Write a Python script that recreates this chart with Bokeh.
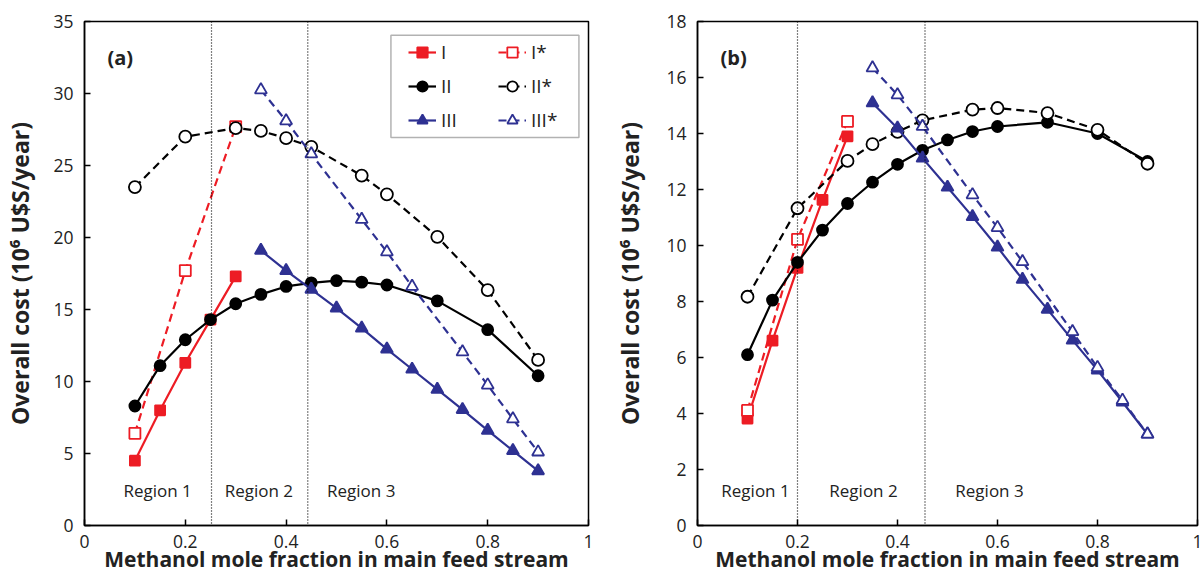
from bokeh.plotting import figure
from bokeh.models import (Span, Label, Legend, LegendItem, FixedTicker,
                          CustomJSTickFormatter, BoxAnnotation)
from bokeh.layouts import row
from bokeh.embed import file_html
from bokeh.resources import INLINE

# ---------------- data: panel (a) ----------------
xa_I = [0.1, 0.15, 0.2, 0.25, 0.3]
ya_I = [4.5, 8.0, 11.3, 14.3, 17.3]
xa_Is = [0.1, 0.2, 0.3]
ya_Is = [6.4, 17.7, 27.7]
xa_II = [0.1, 0.15, 0.2, 0.25, 0.3, 0.35, 0.4, 0.45, 0.5, 0.55, 0.6, 0.7, 0.8, 0.9]
ya_II = [8.3, 11.1, 12.9, 14.3, 15.4, 16.05, 16.6, 16.85, 17.0, 16.9, 16.7, 15.6, 13.6, 10.4]
xa_IIs = [0.1, 0.2, 0.3, 0.35, 0.4, 0.45, 0.55, 0.6, 0.7, 0.8, 0.9]
ya_IIs = [23.5, 27.0, 27.6, 27.4, 26.9, 26.3, 24.3, 23.0, 20.05, 16.35, 11.5]
xa_III = [0.35, 0.4, 0.45, 0.5, 0.55, 0.6, 0.65, 0.7, 0.75, 0.8, 0.85, 0.9]
ya_III = [19.1, 17.7, 16.4, 15.1, 13.7, 12.25, 10.85, 9.45, 8.05, 6.6, 5.2, 3.8]
xa_IIIs = [0.35, 0.4, 0.45, 0.55, 0.6, 0.65, 0.75, 0.8, 0.85, 0.9]
ya_IIIs = [30.25, 28.1, 25.8, 21.25, 19.0, 16.6, 12.05, 9.75, 7.4, 5.1]

# ---------------- data: panel (b) ----------------
xb_I = [0.1, 0.15, 0.2, 0.25, 0.3]
yb_I = [3.82, 6.6, 9.2, 11.63, 13.9]
xb_Is = [0.1, 0.2, 0.3]
yb_Is = [4.11, 10.22, 14.43]
xb_II = [0.1, 0.15, 0.2, 0.25, 0.3, 0.35, 0.4, 0.45, 0.5, 0.55, 0.6, 0.7, 0.8, 0.9]
yb_II = [6.1, 8.05, 9.4, 10.55, 11.5, 12.26, 12.9, 13.4, 13.77, 14.07, 14.25, 14.4, 14.0, 13.0]
xb_IIs = [0.1, 0.2, 0.3, 0.35, 0.4, 0.45, 0.55, 0.6, 0.7, 0.8, 0.9]
yb_IIs = [8.17, 11.33, 13.02, 13.62, 14.06, 14.47, 14.85, 14.91, 14.73, 14.13, 12.92]
xb_III = [0.35, 0.4, 0.45, 0.5, 0.55, 0.6, 0.65, 0.7, 0.75, 0.8, 0.85, 0.9]
yb_III = [15.09, 14.19, 13.12, 12.08, 11.03, 9.94, 8.79, 7.72, 6.62, 5.55, 4.41, 3.26]
xb_IIIs = [0.35, 0.4, 0.45, 0.55, 0.6, 0.65, 0.75, 0.8, 0.85, 0.9]
yb_IIIs = [16.34, 15.38, 14.25, 11.81, 10.64, 9.42, 6.92, 5.64, 4.47, 3.26]

series_names = ["I", "I*", "II", "II*", "III", "III*"]
region_labels = ["Region 1", "Region 2", "Region 3"]
x_ticks = [0, 0.2, 0.4, 0.6, 0.8, 1]
ya_ticks = [0, 5, 10, 15, 20, 25, 30, 35]
yb_ticks = [0, 2, 4, 6, 8, 10, 12, 14, 16, 18]
x_title = "Methanol mole fraction in main feed stream"
y_title = "Overall cost (10\u2076 U$S/year)"

RED = "#ED1C24"
BLUE = "#2E3192"
BLACK = "#000000"
TXT = "#222222"
FONT = "Open Sans"
DASH = "8 5"


def make_panel(data, y_max, y_ticks, tag, region_bounds, region_x, region_y,
               width, min_left, min_right, ytitle_standoff, legend=False):
    p = figure(width=width, height=581, x_range=(0, 1), y_range=(0, y_max),
               output_backend="svg", toolbar_location=None,
               min_border_left=min_left, min_border_right=min_right,
               min_border_top=21, min_border_bottom=56)
    p.grid.visible = False
    p.outline_line_color = BLACK
    p.outline_line_width = 1.5
    p.background_fill_color = "white"
    p.border_fill_color = "white"

    for ax in (p.xaxis[0], p.yaxis[0]):
        ax.axis_line_color = BLACK
        ax.axis_line_width = 1.5
        ax.major_tick_in = 6
        ax.major_tick_out = 0
        ax.major_tick_line_color = BLACK
        ax.major_tick_line_width = 1.5
        ax.minor_tick_line_color = None
        ax.major_label_text_font = FONT
        ax.major_label_text_font_size = "17.5px"
        ax.major_label_text_color = TXT
        ax.axis_label_text_font = FONT
        ax.axis_label_text_font_style = "bold"
        ax.axis_label_text_color = TXT

    p.xaxis.ticker = FixedTicker(ticks=x_ticks)
    p.xaxis.formatter = CustomJSTickFormatter(code="return String(Math.round(tick*10)/10);")
    p.yaxis.ticker = FixedTicker(ticks=y_ticks)
    p.xaxis.axis_label = x_title
    p.yaxis.axis_label = y_title
    p.xaxis.axis_label_text_font_size = "21px"
    p.yaxis.axis_label_text_font_size = "23px"
    p.xaxis.major_label_standoff = 9
    p.xaxis.axis_label_standoff = -6
    p.yaxis.major_label_standoff = 11
    p.yaxis.axis_label_standoff = ytitle_standoff

    for xb in region_bounds:
        p.add_layout(Span(location=xb, dimension="height", line_color=BLACK,
                          line_width=1.2, line_dash="1 2"))

    (xI, yI), (xIs, yIs), (xII, yII), (xIIs, yIIs), (xIII, yIII), (xIIIs, yIIIs) = data
    specs = [
        (xI, yI, RED, "solid", "square", RED, 10),
        (xIs, yIs, RED, DASH, "square", "white", 11),
        (xII, yII, BLACK, "solid", "circle", BLACK, 11),
        (xIIs, yIIs, BLACK, DASH, "circle", "white", 12),
        (xIII, yIII, BLUE, "solid", "triangle", BLUE, 12),
        (xIIIs, yIIIs, BLUE, DASH, "triangle", "white", 12),
    ]
    items = []
    for name, (xs, ys, col, dash, mk, fill, sz) in zip(series_names, specs):
        l = p.line(xs, ys, line_color=col, line_width=2.2, line_dash=dash)
        s = p.scatter(xs, ys, marker=mk, size=sz, fill_color=fill,
                      line_color=col, line_width=1.8)
        items.append(LegendItem(label=name, renderers=[l, s]))

    for lab, rx in zip(region_labels, region_x):
        p.add_layout(Label(x=rx, y=region_y, text=lab, text_font=FONT,
                           text_font_size="17px", text_color=TXT,
                           text_align="center", text_baseline="middle"))

    p.add_layout(Label(x=23, y=468, x_units="screen", y_units="screen", text=tag,
                       text_font=FONT, text_font_style="bold",
                       text_font_size="20px", text_color=TXT,
                       text_baseline="middle"))

    if legend:
        # legend frame (screen box converted to the panel's data space)
        p.add_layout(BoxAnnotation(left=0.608, right=0.981, bottom=26.95, top=34.05,
                                   fill_color="white", fill_alpha=1.0,
                                   line_color=BLACK, line_width=1.5))
        order = [0, 2, 4, 1, 3, 5]
        lg = Legend(items=[items[i] for i in order], location=(324, 392),
                    orientation="vertical", nrows=3,
                    border_line_color=None, background_fill_alpha=0.0,
                    label_text_font=FONT, label_text_font_size="19px",
                    label_text_color=TXT,
                    glyph_width=28, glyph_height=26, label_standoff=5,
                    label_width=49, label_height=26,
                    spacing=8, padding=0, margin=0)
        p.add_layout(lg, "center")
    return p


pa = make_panel([(xa_I, ya_I), (xa_Is, ya_Is), (xa_II, ya_II), (xa_IIs, ya_IIs),
                 (xa_III, ya_III), (xa_IIIs, ya_IIIs)],
                35, ya_ticks, "(a)", [0.252, 0.443], [0.145, 0.346, 0.549], 2.4,
                width=610, min_left=84, min_right=22, ytitle_standoff=14, legend=True)
pb = make_panel([(xb_I, yb_I), (xb_Is, yb_Is), (xb_II, yb_II), (xb_IIs, yb_IIs),
                 (xb_III, yb_III), (xb_IIIs, yb_IIIs)],
                18, yb_ticks, "(b)", [0.2, 0.455], [0.116, 0.332, 0.584], 1.25,
                width=592, min_left=87, min_right=5, ytitle_standoff=17)

layout = row(pa, pb)
open("out.html", "w").write(file_html(layout, INLINE))
